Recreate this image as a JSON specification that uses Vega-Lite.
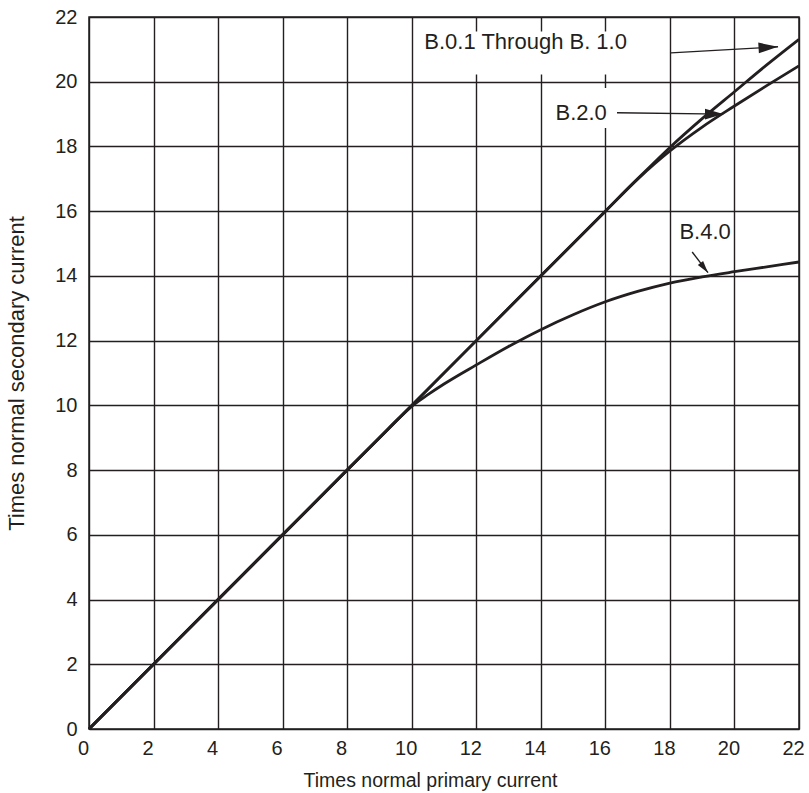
{
  "$schema": "https://vega.github.io/schema/vega-lite/v6.json",
  "width": 710,
  "height": 712,
  "autosize": {"type": "none"},
  "padding": {"left": 89, "top": 17, "right": 10, "bottom": 64},
  "background": "white",
  "config": {
    "view": {"stroke": "#231f20", "strokeWidth": 1.5},
    "font": "Liberation Sans",
    "axis": {
      "grid": true,
      "gridColor": "#231f20",
      "gridOpacity": 1,
      "gridWidth": 1.4,
      "domain": false,
      "ticks": false,
      "labelFont": "Liberation Sans",
      "labelFontSize": 20,
      "labelColor": "#231f20",
      "titleFont": "Liberation Sans",
      "titleFontSize": 19.5,
      "titleFontWeight": "normal",
      "titleColor": "#231f20"
    }
  },
  "datasets": {
    "curves": [
      {"series": "B.0.1 Through B. 1.0", "x": 0, "y": 0},
      {"series": "B.0.1 Through B. 1.0", "x": 4, "y": 4},
      {"series": "B.0.1 Through B. 1.0", "x": 8, "y": 8},
      {"series": "B.0.1 Through B. 1.0", "x": 12, "y": 12},
      {"series": "B.0.1 Through B. 1.0", "x": 16, "y": 16},
      {"series": "B.0.1 Through B. 1.0", "x": 17, "y": 17},
      {"series": "B.0.1 Through B. 1.0", "x": 18, "y": 17.97},
      {"series": "B.0.1 Through B. 1.0", "x": 19, "y": 18.86},
      {"series": "B.0.1 Through B. 1.0", "x": 20, "y": 19.69},
      {"series": "B.0.1 Through B. 1.0", "x": 21, "y": 20.52},
      {"series": "B.0.1 Through B. 1.0", "x": 22, "y": 21.31},
      {"series": "B.2.0", "x": 0, "y": 0},
      {"series": "B.2.0", "x": 4, "y": 4},
      {"series": "B.2.0", "x": 8, "y": 8},
      {"series": "B.2.0", "x": 12, "y": 12},
      {"series": "B.2.0", "x": 16, "y": 16},
      {"series": "B.2.0", "x": 17, "y": 16.99},
      {"series": "B.2.0", "x": 18, "y": 17.86},
      {"series": "B.2.0", "x": 19, "y": 18.6},
      {"series": "B.2.0", "x": 20, "y": 19.25},
      {"series": "B.2.0", "x": 21, "y": 19.88},
      {"series": "B.2.0", "x": 22, "y": 20.49},
      {"series": "B.4.0", "x": 0, "y": 0},
      {"series": "B.4.0", "x": 4, "y": 4},
      {"series": "B.4.0", "x": 8, "y": 8},
      {"series": "B.4.0", "x": 9, "y": 9},
      {"series": "B.4.0", "x": 9.6, "y": 9.6},
      {"series": "B.4.0", "x": 10, "y": 9.97},
      {"series": "B.4.0", "x": 10.5, "y": 10.33},
      {"series": "B.4.0", "x": 11, "y": 10.66},
      {"series": "B.4.0", "x": 12, "y": 11.25},
      {"series": "B.4.0", "x": 13, "y": 11.82},
      {"series": "B.4.0", "x": 14, "y": 12.34},
      {"series": "B.4.0", "x": 15, "y": 12.8},
      {"series": "B.4.0", "x": 16, "y": 13.2},
      {"series": "B.4.0", "x": 17, "y": 13.52},
      {"series": "B.4.0", "x": 18, "y": 13.78},
      {"series": "B.4.0", "x": 19, "y": 13.97},
      {"series": "B.4.0", "x": 20, "y": 14.13},
      {"series": "B.4.0", "x": 21, "y": 14.28},
      {"series": "B.4.0", "x": 22, "y": 14.43}
    ],
    "boxes": [
      {"label": "B.0.1 Through B. 1.0", "x": 10.1, "x2": 17.05, "y": 20.22, "y2": 21.55},
      {"label": "B.2.0", "x": 14.3, "x2": 16.3, "y": 18.57, "y2": 19.81}
    ],
    "arrows": [
      {"label": "B.0.1 Through B. 1.0", "x": 18.03, "y": 20.89, "x2": 21.35, "y2": 21.08},
      {"label": "B.2.0", "x": 16.36, "y": 19.04, "x2": 19.65, "y2": 19.0},
      {"label": "B.4.0", "x": 18.69, "y": 14.74, "x2": 19.18, "y2": 14.1}
    ],
    "labels": [
      {"label": "B.0.1 Through B. 1.0", "x": 13.53, "y": 21.23},
      {"label": "B.2.0", "x": 15.25, "y": 19.04},
      {"label": "B.4.0", "x": 19.09, "y": 15.36}
    ]
  },
  "encoding": {
    "x": {
      "field": "x",
      "type": "quantitative",
      "scale": {"domain": [0, 22], "nice": false, "zero": false},
      "axis": {
        "values": [0, 2, 4, 6, 8, 10, 12, 14, 16, 18, 20, 22],
        "title": "Times normal primary current",
        "labelFlush": false,
        "labelOffset": -6,
        "labelPadding": 9,
        "titlePadding": 13,
        "titleX": 341
      }
    },
    "y": {
      "field": "y",
      "type": "quantitative",
      "scale": {"domain": [0, 22], "nice": false, "zero": false},
      "axis": {
        "values": [0, 2, 4, 6, 8, 10, 12, 14, 16, 18, 20, 22],
        "title": "Times normal secondary current",
        "titleFontSize": 22,
        "labelPadding": 12,
        "titlePadding": 26
      }
    }
  },
  "layer": [
    {
      "data": {"name": "boxes"},
      "mark": {"type": "rect", "fill": "white", "stroke": null},
      "encoding": {"x2": {"field": "x2"}, "y2": {"field": "y2"}}
    },
    {
      "data": {"name": "curves"},
      "mark": {"type": "line", "interpolate": "monotone", "stroke": "#231f20", "strokeWidth": 2.8},
      "encoding": {"detail": {"field": "series"}, "order": {"field": "x"}}
    },
    {
      "data": {"name": "arrows"},
      "mark": {"type": "rule", "stroke": "#231f20", "strokeWidth": 1.4},
      "encoding": {"x2": {"field": "x2"}, "y2": {"field": "y2"}}
    },
    {
      "data": {"name": "arrows"},
      "transform": [{"filter": "datum.label == 'B.0.1 Through B. 1.0'"}],
      "mark": {"type": "point", "shape": "M0,0L-2,-0.55L-2,0.55Z", "filled": true, "fill": "#231f20", "opacity": 1, "size": 380, "angle": -3.4, "strokeWidth": 0},
      "encoding": {"x": {"field": "x2", "type": "quantitative"}, "y": {"field": "y2", "type": "quantitative"}}
    },
    {
      "data": {"name": "arrows"},
      "transform": [{"filter": "datum.label == 'B.2.0'"}],
      "mark": {"type": "point", "shape": "M0,0L-2,-0.6L-2,0.6Z", "filled": true, "fill": "#231f20", "opacity": 1, "size": 330, "angle": 0, "strokeWidth": 0},
      "encoding": {"x": {"field": "x2", "type": "quantitative"}, "y": {"field": "y2", "type": "quantitative"}}
    },
    {
      "data": {"name": "arrows"},
      "transform": [{"filter": "datum.label == 'B.4.0'"}],
      "mark": {"type": "point", "shape": "M0,0L-2,-0.55L-2,0.55Z", "filled": true, "fill": "#231f20", "opacity": 1, "size": 150, "angle": 52, "strokeWidth": 0},
      "encoding": {"x": {"field": "x2", "type": "quantitative"}, "y": {"field": "y2", "type": "quantitative"}}
    },
    {
      "data": {"name": "labels"},
      "mark": {"type": "text", "font": "Liberation Sans", "fontSize": 22, "fill": "#231f20", "align": "center", "baseline": "middle"},
      "encoding": {"text": {"field": "label"}}
    }
  ]
}
